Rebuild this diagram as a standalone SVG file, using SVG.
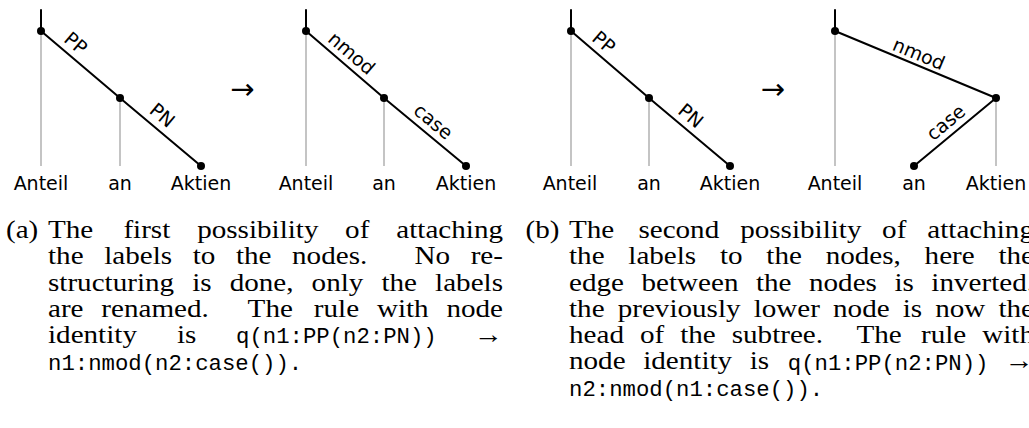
<svg xmlns="http://www.w3.org/2000/svg" width="1029" height="428" viewBox="0 0 1029 428">
<style>
.edge{stroke:#000;stroke-width:2;fill:none;stroke-linecap:round}
.proj{stroke:#c4c4c4;stroke-width:2;fill:none}
.dot{fill:#000}
.word{font-family:"DejaVu Sans",sans-serif;font-size:19px;text-anchor:middle;fill:#000}
.lab{font-family:"DejaVu Sans",sans-serif;font-size:19px;text-anchor:middle;fill:#000}
.arr{font-family:"DejaVu Sans",sans-serif;font-size:29px;text-anchor:middle;fill:#000}
.cap{font-family:"Liberation Serif",serif;font-size:26px;fill:#000}
.tt{font-family:"Liberation Mono",monospace;font-size:22.3px;fill:#000}
.e{text-anchor:end}
</style>
<rect width="1029" height="428" fill="#fff"/>

<g id="connectors">
  <line class="edge" x1="41" y1="10" x2="41" y2="31"/>
  <line class="proj" x1="41" y1="31" x2="41" y2="166"/>
  <line class="proj" x1="120" y1="98" x2="120" y2="166"/>
  <line class="edge" x1="41" y1="31" x2="120" y2="98"/>
  <line class="edge" x1="120" y1="98" x2="201" y2="166"/>

  <line class="edge" x1="306" y1="10" x2="306" y2="31"/>
  <line class="proj" x1="306" y1="31" x2="306" y2="166"/>
  <line class="proj" x1="384" y1="98" x2="384" y2="166"/>
  <line class="edge" x1="306" y1="31" x2="384" y2="98"/>
  <line class="edge" x1="384" y1="98" x2="466" y2="166"/>

  <line class="edge" x1="571" y1="10" x2="571" y2="31"/>
  <line class="proj" x1="571" y1="31" x2="571" y2="166"/>
  <line class="proj" x1="649" y1="98" x2="649" y2="166"/>
  <line class="edge" x1="571" y1="31" x2="649" y2="98"/>
  <line class="edge" x1="649" y1="98" x2="730" y2="166"/>

  <line class="edge" x1="835" y1="10" x2="835" y2="31"/>
  <line class="proj" x1="835" y1="31" x2="835" y2="166"/>
  <line class="proj" x1="996" y1="98" x2="996" y2="166"/>
  <line class="edge" x1="835" y1="31" x2="996" y2="98"/>
  <line class="edge" x1="996" y1="98" x2="914" y2="166"/>
</g>

<g id="edge-labels">
  <text class="lab" transform="translate(76,43) rotate(40.3)" y="6.9">PP</text>
  <text class="lab" transform="translate(162.5,115) rotate(40)" y="6.9">PN</text>
  <text class="lab" transform="translate(352,53) rotate(40.66)" y="7">nmod</text>
  <text class="lab" transform="translate(432.5,122.5) rotate(39.67)" y="5.2">case</text>
  <text class="lab" transform="translate(604,42) rotate(40.66)" y="6.9">PP</text>
  <text class="lab" transform="translate(691,115.5) rotate(40)" y="6.9">PN</text>
  <text class="lab" transform="translate(919,53.5) rotate(22.6)" y="7">nmod</text>
  <text class="lab" transform="translate(946.7,123.5) rotate(-39.67)" y="5.2">case</text>
</g>

<g id="t1-anteil"><circle class="dot" cx="41" cy="31" r="4"/><text class="word" x="41" y="190">Anteil</text></g>
<g id="t1-an"><circle class="dot" cx="120" cy="98" r="4"/><text class="word" x="120" y="190">an</text></g>
<g id="t1-aktien"><circle class="dot" cx="201" cy="166" r="4"/><text class="word" x="201" y="190">Aktien</text></g>

<g id="t2-anteil"><circle class="dot" cx="306" cy="31" r="4"/><text class="word" x="306" y="190">Anteil</text></g>
<g id="t2-an"><circle class="dot" cx="384" cy="98" r="4"/><text class="word" x="384" y="190">an</text></g>
<g id="t2-aktien"><circle class="dot" cx="466" cy="166" r="4"/><text class="word" x="466" y="190">Aktien</text></g>

<g id="t3-anteil"><circle class="dot" cx="571" cy="31" r="4"/><text class="word" x="570" y="190">Anteil</text></g>
<g id="t3-an"><circle class="dot" cx="649" cy="98" r="4"/><text class="word" x="649" y="190">an</text></g>
<g id="t3-aktien"><circle class="dot" cx="730" cy="166" r="4"/><text class="word" x="730" y="190">Aktien</text></g>

<g id="t4-anteil"><circle class="dot" cx="835" cy="31" r="4"/><text class="word" x="835" y="190">Anteil</text></g>
<g id="t4-an"><circle class="dot" cx="914" cy="166" r="4"/><text class="word" x="914" y="190">an</text></g>
<g id="t4-aktien"><circle class="dot" cx="996" cy="98" r="4"/><text class="word" x="996" y="190">Aktien</text></g>

<g id="arrows">
  <text class="arr" x="242.5" y="99">→</text>
  <text class="arr" x="773" y="99">→</text>
</g>

<g id="caption-a">
  <g class="cap" transform="scale(1.12,1)">
    <text y="238"><tspan x="5.36">(a)</tspan><tspan x="42.86">The</tspan><tspan x="110.17">first</tspan><tspan x="176.05">possibility</tspan><tspan x="308.15">of</tspan><tspan x="449.11" class="e">attaching</tspan></text>
    <text y="264.3"><tspan x="42.86">the</tspan><tspan x="93.0">labels</tspan><tspan x="172.03">to</tspan><tspan x="210.63">the</tspan><tspan x="260.77">nodes.</tspan><tspan x="370.13">No</tspan><tspan x="449.11" class="e">re-</tspan></text>
    <text y="290.6"><tspan x="42.86">structuring</tspan><tspan x="171.63">is</tspan><tspan x="205.08">done,</tspan><tspan x="278.23">only</tspan><tspan x="340.57">the</tspan><tspan x="449.11" class="e">labels</tspan></text>
    <text y="316.9"><tspan x="42.86">are</tspan><tspan x="90.45">renamed.</tspan><tspan x="221.09">The</tspan><tspan x="280.25">rule</tspan><tspan x="336.52">with</tspan><tspan x="449.11" class="e">node</tspan></text>
    <text y="343.2"><tspan x="42.86">identity</tspan><tspan x="158.04">is</tspan><tspan x="449.11" class="e">→</tspan></text>
  </g>
  <text class="tt" x="236" y="343.2">q(n1:PP(n2:PN))</text>
  <text class="tt" x="48" y="369.5">n1:nmod(n2:case()).</text>
</g>

<g id="caption-b">
  <g class="cap" transform="scale(1.12,1)">
    <text y="238"><tspan x="469.29">(b)</tspan><tspan x="508.04">The</tspan><tspan x="570.0">second</tspan><tspan x="660.84">possibility</tspan><tspan x="787.59">of</tspan><tspan x="923.21" class="e">attaching</tspan></text>
    <text y="264.3"><tspan x="508.04">the</tspan><tspan x="560.99">labels</tspan><tspan x="642.83">to</tspan><tspan x="684.24">the</tspan><tspan x="737.19">nodes,</tspan><tspan x="825.53">here</tspan><tspan x="923.21" class="e">the</tspan></text>
    <text y="290.6"><tspan x="508.04">edge</tspan><tspan x="572.73">between</tspan><tspan x="674.96">the</tspan><tspan x="722.33">nodes</tspan><tspan x="798.59">is</tspan><tspan x="923.21" class="e">inverted.</tspan></text>
    <text y="316.9"><tspan x="508.04">the</tspan><tspan x="551.48">previously</tspan><tspan x="672.92">lower</tspan><tspan x="743.79">node</tspan><tspan x="806.0">is</tspan><tspan x="835.01">now</tspan><tspan x="923.21" class="e">the</tspan></text>
    <text y="343.2"><tspan x="508.04">head</tspan><tspan x="571.38">of</tspan><tspan x="607.29">the</tspan><tspan x="653.31">subtree.</tspan><tspan x="764.75">The</tspan><tspan x="822.32">rule</tspan><tspan x="923.21" class="e">with</tspan></text>
    <text y="369.5"><tspan x="508.04">node</tspan><tspan x="574.29">identity</tspan><tspan x="669.46">is</tspan><tspan x="923.21" class="e">→</tspan></text>
  </g>
  <text class="tt" x="787.8" y="369.5">q(n1:PP(n2:PN))</text>
  <text class="tt" x="569" y="395.8">n2:nmod(n1:case()).</text>
</g>
</svg>
